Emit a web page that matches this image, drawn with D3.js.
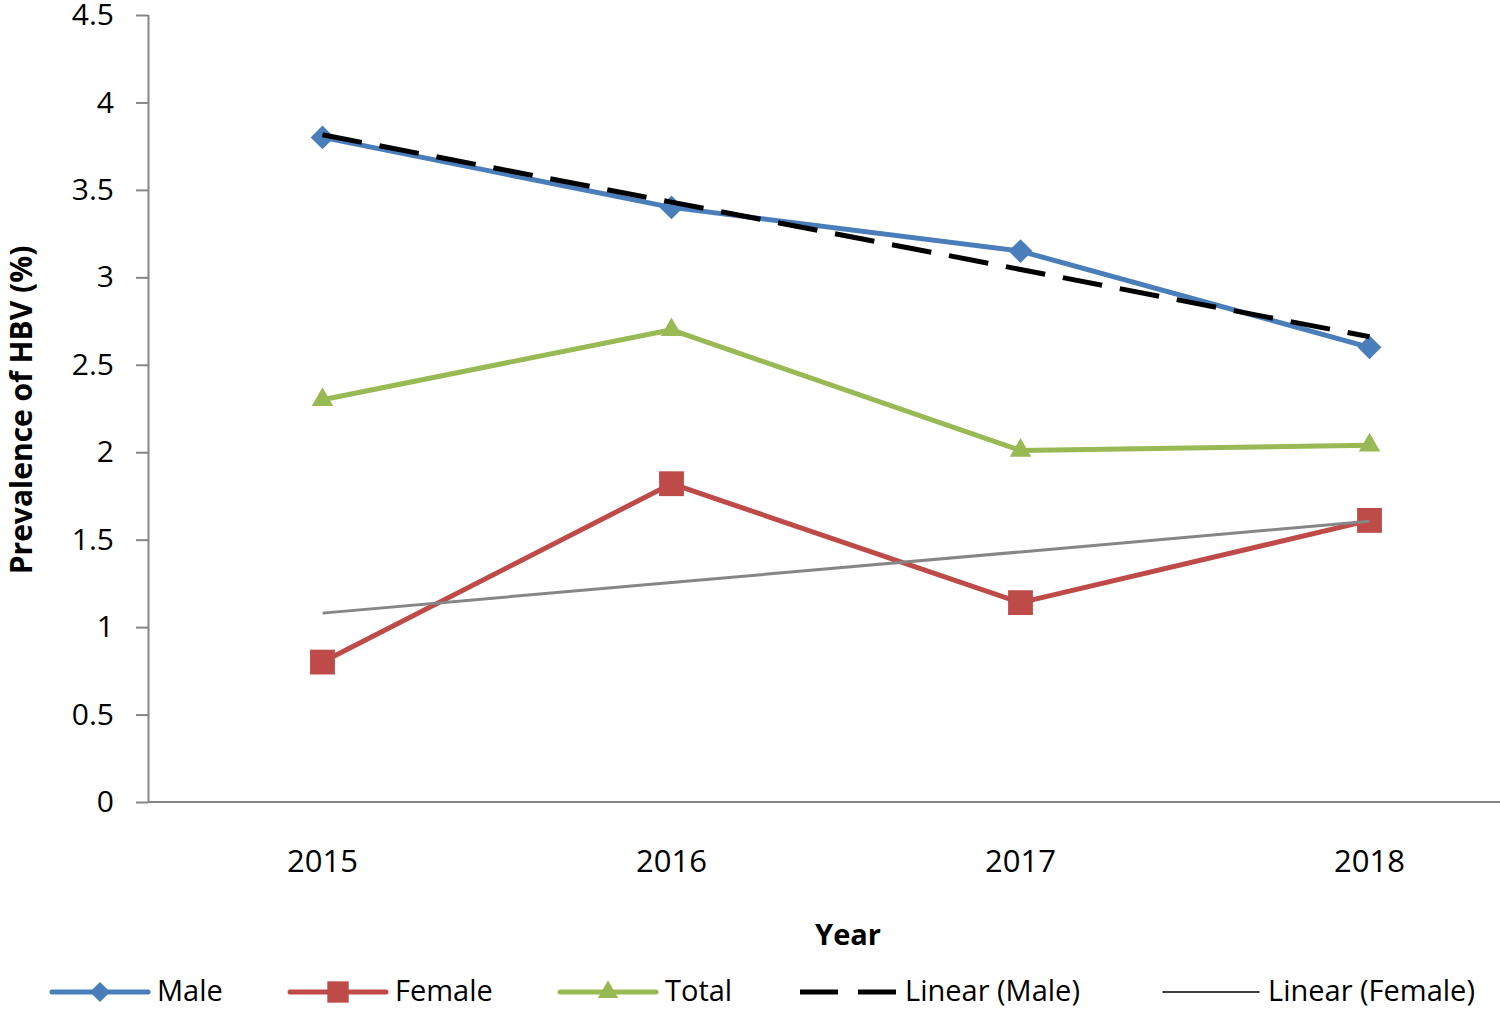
<!DOCTYPE html>
<html>
<head>
<meta charset="utf-8">
<script src="https://cdn.jsdelivr.net/npm/d3@7"></script>
<style>
  body { margin: 0; background: #fff; }
  text { font-family: "Open Sans", "Liberation Sans", sans-serif; fill: #000; }
</style>
</head>
<body>
<script>
const w = 1500;
const h = 1009;

// data
const years = ["2015", "2016", "2017", "2018"];
const male = [3.8, 3.4, 3.15, 2.6];
const female = [0.8, 1.82, 1.14, 1.61];
const total = [2.3, 2.7, 2.01, 2.04];
const yTicks = [0, 0.5, 1, 1.5, 2, 2.5, 3, 3.5, 4, 4.5];

// least squares trend, same as Excel's "Linear" trendline
function linearFit(vals){
  const xs = vals.map((d, i) => i + 1);
  const mx = d3.mean(xs), my = d3.mean(vals);
  let num = 0, den = 0;
  xs.forEach((xv, i) => { num += (xv - mx) * (vals[i] - my); den += (xv - mx) * (xv - mx); });
  const b = num / den, a = my - b * mx;
  return xs.map(xv => a + b * xv);
}

const svg = d3.select("body").append("svg")
  .attr("width", w).attr("height", h);

const mLeft = 148, mTop = 15, mBottom = 802;
// plot area runs past the right edge of the picture (cropped)
const x = d3.scalePoint().domain(years).range([mLeft, mLeft + 1396]).padding(0.5);
const y = d3.scaleLinear().domain([0, 4.5]).range([mBottom, mTop]);

// y axis
const yAxis = svg.append("g")
  .attr("transform", `translate(${mLeft},0)`)
  .call(d3.axisLeft(y).tickValues(yTicks).tickSize(12).tickPadding(22)
        .tickFormat(d => d));
yAxis.selectAll("path, line").attr("stroke", "#868686").attr("stroke-width", 2);
yAxis.selectAll("text").attr("font-size", 30).attr("fill", "#000")
  .style("font-family", "'Open Sans', sans-serif");
yAxis.select(".domain").attr("d", `M0.5,${mTop}V${mBottom}`);

// x axis line
svg.append("line")
  .attr("x1", mLeft).attr("x2", w).attr("y1", mBottom).attr("y2", mBottom)
  .attr("stroke", "#868686").attr("stroke-width", 2);

svg.selectAll(".xlab").data(years).enter().append("text")
  .attr("class", "xlab")
  .attr("x", d => x(d)).attr("y", 872)
  .attr("text-anchor", "middle").attr("font-size", 31)
  .text(d => d);

// axis titles
svg.append("text")
  .attr("x", 848).attr("y", 945).attr("text-anchor", "middle")
  .attr("font-size", 29).attr("font-weight", "bold").text("Year");
svg.append("text")
  .attr("transform", "translate(32,410) rotate(-90)")
  .attr("text-anchor", "middle").attr("font-size", 30).attr("font-weight", "bold")
  .text("Prevalence of HBV (%)");

const line = d3.line().x((d, i) => x(years[i])).y(d => y(d));

const series = [
  {name: "Male", vals: male, color: "#4A7EBB", marker: "diamond"},
  {name: "Female", vals: female, color: "#BE4B48", marker: "square"},
  {name: "Total", vals: total, color: "#98B954", marker: "triangle"}
];

const markerPath = {
  diamond: d3.symbol().type(d3.symbolDiamond2).size(360)(),
  square: d3.symbol().type(d3.symbolSquare2).size(784)(),
  triangle: d3.symbol().type(d3.symbolTriangle2).size(330)()
};

series.forEach(s => {
  svg.append("path").datum(s.vals)
    .attr("d", line).attr("fill", "none")
    .attr("stroke", s.color).attr("stroke-width", 5)
    .attr("stroke-linejoin", "round");
  svg.selectAll(".m-" + s.name).data(s.vals).enter().append("path")
    .attr("transform", (d, i) => `translate(${x(years[i])},${y(d)})`)
    .attr("d", markerPath[s.marker])
    .attr("fill", s.color);
});

const maleTrend = linearFit(male);
const femaleTrend = linearFit(female);

// Excel draws trendlines on top of series
svg.append("path").datum(maleTrend)
  .attr("d", line).attr("fill", "none")
  .attr("stroke", "#000").attr("stroke-width", 5)
  .attr("stroke-dasharray", "40,18");
svg.append("path").datum(femaleTrend)
  .attr("d", line).attr("fill", "none")
  .attr("stroke", "#868686").attr("stroke-width", 3);

// legend
const legendItems = [
  {name: "Male", color: "#4A7EBB", marker: "diamond", width: 5, sc: 0.85},
  {name: "Female", color: "#BE4B48", marker: "square", width: 5, sc: 0.86},
  {name: "Total", color: "#98B954", marker: "triangle", width: 5, sc: 0.95},
  {name: "Linear (Male)", color: "#000", dash: "38,20", width: 5},
  {name: "Linear (Female)", color: "#000", width: 1.5}
];
const legendX = [52, 290, 560, 800, 1163];
const ly = 992;
const lg = svg.append("g");
legendItems.forEach((it, i) => {
  const x0 = legendX[i];
  lg.append("line")
    .attr("x1", x0).attr("x2", x0 + 96).attr("y1", ly).attr("y2", ly)
    .attr("stroke", it.color).attr("stroke-width", it.width)
    .attr("stroke-dasharray", it.dash || null)
    .attr("stroke-linecap", it.dash ? "butt" : "round");
  if (it.marker) {
    lg.append("path")
      .attr("transform", `translate(${x0 + 48},${ly}) scale(${it.sc})`)
      .attr("d", markerPath[it.marker]).attr("fill", it.color);
  }
  lg.append("text")
    .attr("x", x0 + 105).attr("y", ly + 9)
    .attr("font-size", 29)
    .text(it.name);
});
</script>
</body>
</html>
